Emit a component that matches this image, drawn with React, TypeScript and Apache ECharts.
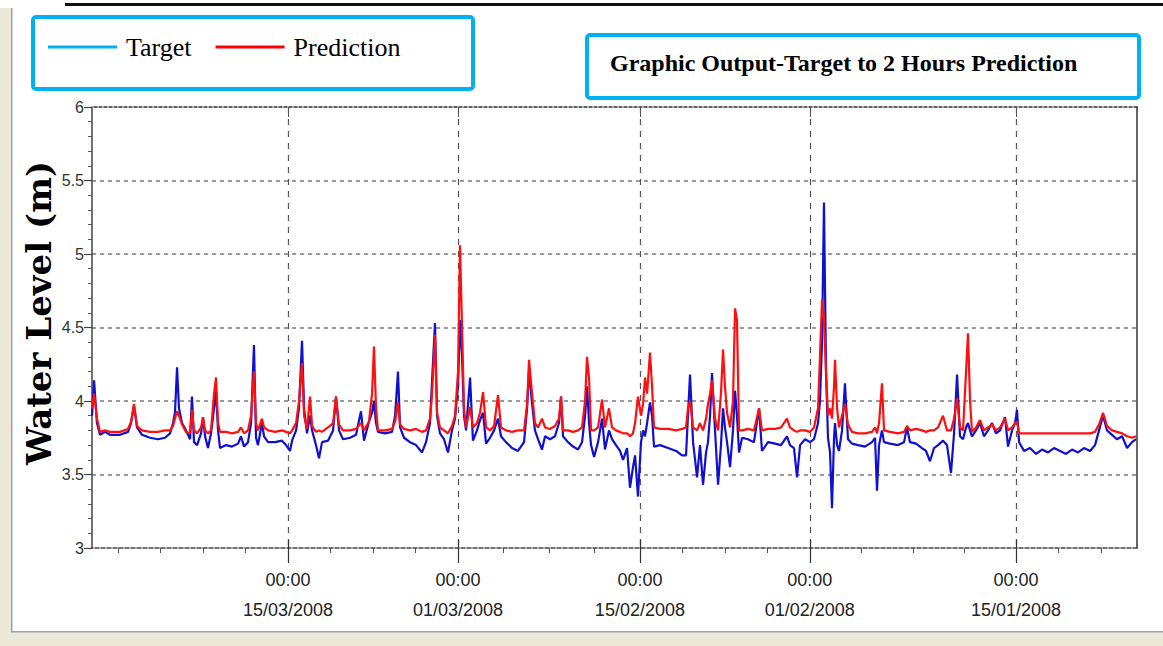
import React, { useEffect, useRef } from 'react';
import * as echarts from 'echarts';

// Days elapsed since 01/01/2008 00:00 for every sample (read left to right on the reversed time axis)
const dayOffsets = [
  90.16, 89.99, 89.75, 89.5, 89.09, 88.67, 87.85, 87.19, 86.94, 86.7,
  86.45, 86.04, 85.38, 84.72, 84.14, 83.73, 83.48, 83.32, 83.15, 82.99,
  82.74, 82.41, 82.08, 81.92, 81.75, 81.5, 81.17, 81.01, 80.84, 80.6,
  80.35, 80.1, 79.94, 79.77, 79.61, 79.11, 78.62, 78.12, 77.88, 77.63,
  77.3, 77.05, 76.81, 76.64, 76.48, 76.15, 75.98, 75.65, 75.07, 74.5,
  74.17, 73.84, 73.67, 73.34, 73.1, 72.85, 72.68, 72.44, 72.19, 72.02,
  71.7, 71.45, 71.2, 70.71, 70.29, 70.05, 69.8, 69.47, 68.89, 68.4,
  67.99, 67.74, 67.33, 67.08, 66.92, 66.75, 66.59, 66.01, 65.43, 65.18,
  64.94, 64.77, 64.44, 63.95, 63.45, 62.96, 62.63, 62.3, 62.13, 61.89,
  61.72, 61.48, 61.15, 60.82, 60.49, 60.24, 59.99, 59.83, 59.66, 59.5,
  59.33, 59.0, 58.76, 58.43, 58.18, 57.93, 57.68, 57.35, 57.02, 56.7,
  56.45, 56.04, 55.54, 55.05, 54.55, 54.3, 54.14, 53.89, 53.65, 53.4,
  53.07, 52.82, 52.41, 52.0, 51.67, 51.5, 51.34, 50.93, 50.51, 50.1,
  49.77, 49.52, 49.36, 49.19, 49.03, 48.78, 48.45, 48.12, 47.88, 47.55,
  47.3, 46.97, 46.64, 46.39,
  46.06, 45.82, 45.57, 45.4, 45.16, 44.91, 44.74, 44.58, 44.41, 44.17,
  44.0, 43.84, 43.34, 42.68, 42.02, 41.53, 41.2, 41.04, 40.87, 40.62,
  40.29, 40.05, 39.8, 39.55, 39.39, 39.22, 39.06, 38.81, 38.56, 38.32,
  38.15, 37.99, 37.82, 37.57, 37.33, 37.16, 37.0, 36.83, 36.58, 36.09,
  35.6, 35.18, 34.94, 34.44, 33.86, 33.37, 32.88, 32.63, 32.3, 32.05,
  31.8, 31.39, 30.98, 30.65, 30.32, 30.16, 29.99, 29.83, 29.66, 29.5,
  29.33, 29.17, 29.0, 28.92, 28.75, 28.59, 28.34, 28.1, 27.85, 27.52,
  27.02, 26.45, 25.87, 25.62, 25.46, 25.29, 25.05, 24.88, 24.39, 23.73,
  23.23, 22.99, 22.74, 22.24, 21.75, 21.42, 21.09, 20.76, 20.43, 20.02,
  19.69, 19.36, 19.11, 18.86, 18.62, 18.37, 18.12, 17.96, 17.79, 17.63,
  17.3, 16.97, 16.64, 16.31, 15.98, 15.65, 15.32, 14.91, 14.66, 14.33,
  14.08, 13.92, 13.75, 13.34, 12.85, 12.35, 11.86, 11.36, 10.87, 10.37,
  9.88, 9.39, 8.89, 8.4, 7.9, 7.49, 7.16, 6.83, 6.5, 6.09,
  5.68, 5.26, 4.85, 4.44, 4.11,
];

// Target water level (m)
const targetLevels = [
  3.9, 4.14, 3.85, 3.77, 3.79, 3.77, 3.77, 3.79, 3.85, 3.97,
  3.82, 3.77, 3.75, 3.74, 3.75, 3.78, 3.85, 3.92, 4.23, 3.95,
  3.85, 3.8, 3.74, 4.03, 3.72, 3.7, 3.78, 3.89, 3.76, 3.68,
  3.78, 3.95, 4.07, 3.8, 3.68, 3.7, 3.69, 3.71, 3.76, 3.69,
  3.72, 3.85, 4.38, 3.75, 3.7, 3.85, 3.76, 3.72, 3.72, 3.73,
  3.7, 3.66, 3.73, 3.8, 3.95, 4.41, 3.95, 3.78, 3.9, 3.8,
  3.7, 3.61, 3.72, 3.73, 3.8, 4.03, 3.8, 3.74, 3.75, 3.77,
  3.93, 3.73, 3.86, 3.92, 4.0, 3.85, 3.79, 3.78, 3.79, 3.9,
  4.2, 3.82, 3.75, 3.72, 3.7, 3.65, 3.72, 3.85, 4.14, 4.53,
  3.9, 3.78, 3.74, 3.65, 3.8, 3.88, 4.1, 4.55, 4.3, 3.9,
  3.8, 4.16, 3.73, 3.8, 3.87, 3.92, 3.71, 3.75, 3.8, 3.88,
  3.76, 3.72, 3.68, 3.66, 3.72, 3.95, 4.21, 3.98, 3.8, 3.74,
  3.67, 3.76, 3.74, 3.76, 3.85, 4.03, 3.76, 3.72, 3.69, 3.67,
  3.72, 3.9, 4.1, 3.85, 3.7, 3.62, 3.72, 3.88, 3.67, 3.8,
  3.74, 3.7, 3.66, 3.6,
  3.68, 3.41, 3.55, 3.63, 3.35, 3.72, 3.8, 3.76, 3.85, 3.99,
  3.9, 3.69, 3.7, 3.68, 3.66, 3.63, 3.63, 3.9, 4.18, 3.72,
  3.48, 3.7, 3.43, 3.65, 3.72, 3.9, 4.19, 3.8, 3.43, 3.7,
  3.95, 3.82, 3.72, 3.55, 3.8, 4.07, 3.9, 3.65, 3.75, 3.74,
  3.72, 3.95, 3.66, 3.72, 3.71, 3.7, 3.76, 3.7, 3.68, 3.48,
  3.7, 3.74, 3.72, 3.74, 3.85, 4.0, 4.4, 5.35, 4.2, 3.75,
  3.65, 3.27, 3.75, 3.85, 3.7, 3.66, 3.8, 4.12, 3.74, 3.71,
  3.7, 3.69, 3.72, 3.75, 3.39, 3.7, 3.8, 3.72, 3.71, 3.7,
  3.72, 3.82, 3.72, 3.71, 3.68, 3.66, 3.59, 3.68, 3.7, 3.73,
  3.7, 3.51, 3.78, 4.18, 3.76, 3.74, 3.82, 3.85, 3.8, 3.76,
  3.8, 3.85, 3.76, 3.8, 3.85, 3.78, 3.8, 3.89, 3.69, 3.8,
  3.85, 3.94, 3.72, 3.66, 3.68, 3.64, 3.67, 3.65, 3.68, 3.66,
  3.64, 3.67, 3.65, 3.68, 3.66, 3.7, 3.8, 3.9, 3.8, 3.77,
  3.74, 3.76, 3.68, 3.72, 3.74,
];

// 2-hour-ahead predicted water level (m)
const predictionLevels = [
  3.95, 4.05, 3.88, 3.79, 3.8, 3.79, 3.79, 3.81, 3.86, 3.98,
  3.83, 3.8, 3.79, 3.79, 3.8, 3.8, 3.83, 3.88, 3.93, 3.9,
  3.84, 3.79, 3.78, 3.94, 3.8, 3.78, 3.82, 3.89, 3.8, 3.78,
  3.8, 4.05, 4.16, 3.85, 3.79, 3.79, 3.78, 3.79, 3.82, 3.78,
  3.8, 3.9, 4.2, 3.85, 3.8, 3.88, 3.82, 3.8, 3.79, 3.8,
  3.79, 3.78, 3.8, 3.85, 4.0, 4.26, 3.9, 3.81, 4.03, 3.83,
  3.79, 3.8, 3.79, 3.82, 3.85, 4.03, 3.84, 3.8, 3.8, 3.81,
  3.85, 3.8, 3.86, 4.05, 4.37, 3.95, 3.8, 3.8, 3.81, 3.86,
  3.99, 3.84, 3.81, 3.8, 3.81, 3.79, 3.8, 3.88, 4.05, 4.45,
  3.92, 3.82, 3.8, 3.78, 3.83, 3.9, 4.2, 5.06, 4.5, 3.95,
  3.82, 3.96, 3.82, 3.85, 3.92, 4.06, 3.82, 3.8, 3.83, 4.04,
  3.82, 3.8, 3.79, 3.8, 3.8, 3.98, 4.28, 4.05, 3.85, 3.82,
  3.88, 3.82, 3.81, 3.83, 3.88, 4.03, 3.8, 3.8, 3.79, 3.8,
  3.82, 4.0, 4.3, 4.15, 3.8, 3.8, 3.82, 4.01, 3.82, 3.95,
  3.82, 3.8, 3.79, 3.78,
  3.78, 3.76, 3.78, 3.85, 4.03, 3.9, 3.98, 4.16, 4.05, 4.33,
  4.1, 3.82, 3.81, 3.81, 3.8, 3.81, 3.82, 3.95, 4.0, 3.82,
  3.8, 3.85, 3.8, 3.88, 3.98, 4.05, 4.14, 3.88, 3.8, 4.05,
  4.35, 4.1, 3.92, 3.82, 4.0, 4.63, 4.55, 3.8, 3.8, 3.81,
  3.8, 3.95, 3.8, 3.81, 3.81, 3.82, 3.88, 3.82, 3.8, 3.79,
  3.8, 3.8, 3.79, 3.82, 3.95, 4.3, 4.69, 4.55, 4.2, 3.9,
  3.95, 3.88, 4.1, 4.28, 3.95, 3.82, 3.9, 3.98, 3.84, 3.79,
  3.78, 3.78, 3.79, 3.82, 3.78, 3.85, 4.12, 3.8, 3.79, 3.78,
  3.79, 3.83, 3.8, 3.81, 3.8, 3.79, 3.8, 3.8, 3.82, 3.9,
  3.8, 3.8, 3.88, 4.02, 3.82, 3.8, 4.2, 4.46, 4.0, 3.79,
  3.82, 3.87, 3.8, 3.82, 3.84, 3.8, 3.82, 3.88, 3.8, 3.82,
  3.85, 3.86, 3.78, 3.78, 3.78, 3.78, 3.78, 3.78, 3.78, 3.78,
  3.78, 3.78, 3.78, 3.78, 3.78, 3.79, 3.84, 3.92, 3.83, 3.8,
  3.79, 3.78, 3.76, 3.75, 3.76,
];

// Axis configuration (days since 01/01/2008)
const majorTickDays = [14, 31, 45, 60, 74];
const minorTickDays = [7, 10.5, 18.25, 22.5, 26.75, 34.5, 38, 41.5, 48.75, 52.5, 56.25, 63.5, 67, 70.5, 77.5, 81, 84.5, 88];
const axisStartDay = 4.03;
const axisEndDay = 90.16;
const yMin = 3;
const yMax = 6;
const yStep = 0.5;

const seriesNames = ['Target', 'Prediction'];
const legendColors = ['#00B0F0', '#FF0000'];
const lineColors = ['#1010D0', '#FF1010'];
const chartTitle = 'Graphic Output-Target to 2 Hours Prediction';
const yAxisTitle = 'Water Level (m)';

const toTime = (d: number) => new Date(2008, 0, 1, 0, Math.round(d * 1440)).getTime();
const pad = (n: number) => (n < 10 ? '0' + n : '' + n);
const fmt = (v: number) => {
  const dt = new Date(v);
  return `${pad(dt.getHours())}:${pad(dt.getMinutes())}\n${pad(dt.getDate())}/${pad(dt.getMonth() + 1)}/${dt.getFullYear()}`;
};

const SANS = "'Liberation Sans', Arial, sans-serif";

export default function App() {
  const ref = useRef<HTMLDivElement>(null);
  useEffect(() => {
    if (!ref.current) return;
    const chart = echarts.init(ref.current, null, { renderer: 'svg' });
    const majors = majorTickDays.map(toTime);
    const minors = minorTickDays.map(toTime);
    const xMin = toTime(axisStartDay);
    const xMax = toTime(axisEndDay);
    const target = dayOffsets.map((d, i) => [toTime(d), targetLevels[i]]);
    const prediction = dayOffsets.map((d, i) => [toTime(d), predictionLevels[i]]);
    const baseX = { type: 'value', inverse: true, min: xMin, max: xMax, gridIndex: 0, scale: true } as any;

    chart.setOption({
      animation: false,
      backgroundColor: '#ffffff',
      title: {
        text: chartTitle,
        left: 610,
        top: 51,
        padding: 0,
        textStyle: { fontFamily: "'Liberation Serif', serif", fontWeight: 'bold', fontSize: 24, color: '#000' },
      },
      legend: {
        left: 48,
        top: 34,
        padding: 0,
        icon: 'rect',
        itemWidth: 69,
        itemHeight: 3,
        itemGap: 24,
        selectedMode: false,
        textStyle: { fontFamily: "'Liberation Serif', serif", fontSize: 26, color: '#000', padding: [0, 0, 0, 4] },
        data: seriesNames.map((n, i) => ({ name: n, itemStyle: { color: legendColors[i] } })),
      },
      grid: { left: 92, right: 26, top: 107, bottom: 98 },
      xAxis: [
        {
          ...baseX,
          position: 'bottom',
          axisLine: { show: true, lineStyle: { color: '#444', width: 1.5, type: [4, 2] } },
          axisTick: { show: true, customValues: majors, length: 15, lineStyle: { color: '#333', width: 1.2 } },
          axisLabel: {
            customValues: majors,
            formatter: (v: number) => fmt(v),
            fontFamily: SANS,
            fontSize: 18,
            lineHeight: 30,
            color: '#222',
            margin: 17,
            hideOverlap: false,
          },
          splitLine: { show: true, lineStyle: { color: '#555', width: 1.2, type: [6, 6] } },
        },
        {
          ...baseX,
          position: 'bottom',
          axisLine: { show: false },
          axisTick: { show: true, inside: true, customValues: majors, length: 8, lineStyle: { color: '#333', width: 1.2 } },
          axisLabel: { show: false },
          splitLine: { show: false },
        },
        {
          ...baseX,
          position: 'bottom',
          axisLine: { show: false },
          axisTick: { show: true, customValues: minors, length: 5, lineStyle: { color: '#555', width: 1 } },
          axisLabel: { show: false },
          splitLine: { show: false },
        },
        {
          ...baseX,
          position: 'top',
          axisLine: { show: true, lineStyle: { color: '#333', width: 1.5, type: [3, 2] } },
          axisTick: { show: true, inside: true, customValues: majors, length: 10, lineStyle: { color: '#555', width: 1 } },
          axisLabel: { show: false },
          splitLine: { show: false },
        },
      ],
      yAxis: [
        {
          type: 'value',
          min: yMin,
          max: yMax,
          interval: yStep,
          position: 'left',
          axisLine: { show: true, lineStyle: { color: '#444', width: 1.5 } },
          axisTick: { show: true, length: 8, lineStyle: { color: '#444', width: 1.2 } },
          minorTick: { show: true, splitNumber: 5, length: 4, lineStyle: { color: '#555', width: 1 } },
          axisLabel: { fontFamily: SANS, fontSize: 16, color: '#333', margin: 8 },
          splitLine: { show: true, showMinLine: false, showMaxLine: false, lineStyle: { color: '#9a9a9a', width: 2, type: [4, 4] } },
        },
        {
          type: 'value',
          min: yMin,
          max: yMax,
          interval: yStep,
          position: 'right',
          axisLine: { show: true, lineStyle: { color: '#333', width: 1.5 } },
          axisTick: { show: false },
          axisLabel: { show: false },
          splitLine: { show: false },
        },
      ],
      graphic: [
        { type: 'rect', shape: { x: 0, y: 8, width: 11, height: 638 }, style: { fill: '#ECE9D8' }, silent: true },
        { type: 'rect', shape: { x: 11, y: 8, width: 1.5, height: 625 }, style: { fill: '#A0A0A0' }, silent: true },
        { type: 'rect', shape: { x: 0, y: 632, width: 1163, height: 14 }, style: { fill: '#ECE9D8' }, silent: true },
        { type: 'rect', shape: { x: 11, y: 631, width: 1152, height: 1.5 }, style: { fill: '#A0A0A0' }, silent: true },
        { type: 'rect', shape: { x: 65, y: 3, width: 1098, height: 3 }, style: { fill: '#111' }, silent: true },
        { type: 'rect', shape: { x: 33, y: 17, width: 440, height: 72, r: 3 }, style: { fill: 'none', stroke: '#00B0F0', lineWidth: 4 }, silent: true },
        { type: 'rect', shape: { x: 587, y: 35, width: 552, height: 63, r: 3 }, style: { fill: 'none', stroke: '#00B0F0', lineWidth: 4 }, silent: true },
        {
          type: 'text',
          x: 39,
          y: 313,
          rotation: Math.PI / 2,
          style: {
            text: yAxisTitle,
            font: "bold 34px 'DejaVu Serif', serif",
            fill: '#000',
            textAlign: 'center',
            textVerticalAlign: 'middle',
          },
          silent: true,
        },
      ],
      series: [
        {
          name: seriesNames[0],
          type: 'line',
          xAxisIndex: 0,
          yAxisIndex: 0,
          data: target,
          symbol: 'none',
          lineStyle: { color: lineColors[0], width: 2.2 },
          itemStyle: { color: lineColors[0] },
          z: 3,
        },
        {
          name: seriesNames[1],
          type: 'line',
          xAxisIndex: 0,
          yAxisIndex: 0,
          data: prediction,
          symbol: 'none',
          lineStyle: { color: lineColors[1], width: 2.2 },
          itemStyle: { color: lineColors[1] },
          z: 4,
        },
      ],
    });
    return () => chart.dispose();
  }, []);
  return <div ref={ref} style={{ position: 'absolute', left: 0, top: 0, width: 1163, height: 646 }} />;
}
